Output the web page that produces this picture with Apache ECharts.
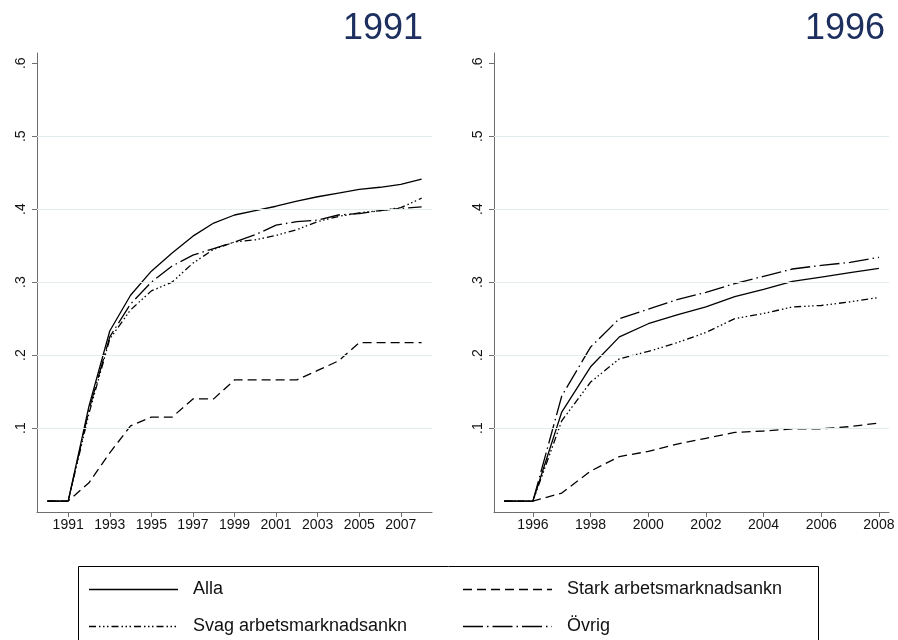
<!DOCTYPE html>
<html>
<head>
<meta charset="utf-8">
<script src="https://cdn.jsdelivr.net/npm/echarts@6/dist/echarts.min.js"></script>
<style>html,body{margin:0;padding:0;background:#fff;}#c{width:898px;height:640px;}</style>
</head>
<body>
<div id="c"></div>
<script>
// ---- data ----
const yearsL = [1990,1991,1992,1993,1994,1995,1996,1997,1998,1999,2000,2001,2002,2003,2004,2005,2006,2007,2008];
const allaL  = [0,0,0.13,0.233,0.282,0.315,0.34,0.363,0.381,0.392,0.398,0.404,0.411,0.417,0.422,0.427,0.430,0.434,0.441];
const starkL = [0,0,0.025,0.066,0.103,0.115,0.115,0.140,0.140,0.166,0.166,0.166,0.166,0.179,0.192,0.217,0.217,0.217,0.217];
const svagL  = [0,0,0.12,0.222,0.262,0.288,0.300,0.326,0.345,0.355,0.358,0.364,0.372,0.383,0.390,0.395,0.398,0.402,0.415];
const ovrigL = [0,0,0.125,0.225,0.270,0.300,0.322,0.337,0.346,0.355,0.365,0.378,0.383,0.385,0.392,0.394,0.398,0.401,0.403];

const yearsR = [1995,1996,1997,1998,1999,2000,2001,2002,2003,2004,2005,2006,2007,2008];
const allaR  = [0,0,0.122,0.184,0.225,0.243,0.255,0.266,0.280,0.290,0.301,0.307,0.313,0.319];
const starkR = [0,0,0.011,0.041,0.061,0.068,0.078,0.086,0.094,0.096,0.099,0.099,0.102,0.107];
const svagR  = [0,0,0.110,0.163,0.195,0.205,0.217,0.231,0.250,0.257,0.266,0.268,0.273,0.279];
const ovrigR = [0,0,0.144,0.211,0.250,0.263,0.276,0.286,0.298,0.308,0.318,0.323,0.327,0.334];

const yTicks = [0.1,0.2,0.3,0.4,0.5,0.6];
const gridVals = [0.1,0.2,0.3,0.4,0.5];
const xTicksL = [1991,1993,1995,1997,1999,2001,2003,2005,2007];
const xTicksR = [1996,1998,2000,2002,2004,2006,2008];
const names = ['Alla','Stark arbetsmarknadsankn','Svag arbetsmarknadsankn','Övrig'];
const panelTitles = ['1991','1996'];

// ---- styles ----
const FONT = 'Liberation Sans, Arial, Helvetica, sans-serif';
const dashes = [
  'solid',
  [9,5],
  [7,3,1.5,2.5,1.5,2.5,1.5,3],
  [20,4,1.5,4]
];
const axisColor = '#6e6e6e';

function pairs(xs, ys){ return xs.map((x,i)=>[x, ys[i]]); }

function xAxis(gi, min, max, ticks){
  return {
    type:'value', gridIndex:gi, min:min, max:max,
    axisLine:{show:true, onZero:false, lineStyle:{color:axisColor, width:1}},
    axisTick:{show:true, length:5, customValues:ticks, lineStyle:{color:axisColor}},
    axisLabel:{customValues:ticks, color:'#111', fontSize:14, fontFamily:FONT, margin:6, formatter:v=>String(Math.round(v))},
    splitLine:{show:false}
  };
}
function yAxis(gi){
  return {
    type:'value', gridIndex:gi, min:-0.015, max:0.614,
    axisLine:{show:true, onZero:false, lineStyle:{color:axisColor, width:1}},
    axisTick:{show:true, length:5, customValues:yTicks, lineStyle:{color:axisColor}},
    axisLabel:{customValues:yTicks, rotate:90, color:'#111', fontSize:14, fontFamily:FONT, margin:9,
      formatter:v=>'.'+Math.round(v*10)},
    splitLine:{show:false}
  };
}
function lineSeries(name, gi, xs, ys, k){
  return {
    name:name, type:'line', xAxisIndex:gi, yAxisIndex:gi,
    data:pairs(xs, ys), symbol:'none', showSymbol:false, z:3,
    lineStyle:{color:'#000', width:1.3, type:dashes[k]},
    itemStyle:{color:'#000'},
    emphasis:{disabled:true}, animation:false
  };
}
function gridSeries(gi){
  return {
    type:'line', xAxisIndex:gi, yAxisIndex:gi, data:[], z:1, silent:true, animation:false,
    markLine:{silent:true, symbol:['none','none'], label:{show:false},
      lineStyle:{color:'#e3ecef', type:'solid', width:1},
      data:gridVals.map(v=>({yAxis:v}))}
  };
}

const chart = echarts.init(document.getElementById('c'), null, {renderer:'canvas'});
const series = [
  gridSeries(0), gridSeries(1),
  lineSeries(names[0],0,yearsL,allaL,0),
  lineSeries(names[1],0,yearsL,starkL,1),
  lineSeries(names[2],0,yearsL,svagL,2),
  lineSeries(names[3],0,yearsL,ovrigL,3),
  lineSeries(names[0],1,yearsR,allaR,0),
  lineSeries(names[1],1,yearsR,starkR,1),
  lineSeries(names[2],1,yearsR,svagR,2),
  lineSeries(names[3],1,yearsR,ovrigR,3)
];

// legend drawn as graphic (2 columns x 2 rows)
const legendPos = [
  {k:0, x:89,  y:589},
  {k:1, x:463, y:589},
  {k:2, x:89,  y:626},
  {k:3, x:463, y:626}
];
const legendGraphics = [{
  type:'rect', shape:{x:78.5, y:566.5, width:740, height:90}, silent:true, z:0,
  style:{fill:'#fff', stroke:'#000', lineWidth:1}
}];
legendPos.forEach(p=>{
  const d = dashes[p.k];
  legendGraphics.push({
    type:'line', silent:true, z:1,
    shape:{x1:p.x, y1:p.y+0.5, x2:p.x+89, y2:p.y+0.5},
    style:{stroke:'#000', lineWidth:1.3, lineDash: d==='solid'? null : d}
  });
  legendGraphics.push({
    type:'text', silent:true, z:1, x:p.x+104, y:p.y,
    style:{text:names[p.k], fill:'#111', font:'18px '+FONT, textVerticalAlign:'middle', textAlign:'left'}
  });
});

chart.setOption({
  animation:false,
  backgroundColor:'#fff',
  title:[
    {text:panelTitles[0], right:475, top:11, padding:0, textStyle:{fontSize:36, fontWeight:'normal', color:'#1c2f5e', fontFamily:FONT}},
    {text:panelTitles[1], right:13, top:11, padding:0, textStyle:{fontSize:36, fontWeight:'normal', color:'#1c2f5e', fontFamily:FONT}}
  ],
  grid:[
    {left:37, top:53, width:395, bottom:128, containLabel:false},
    {left:494, top:53, width:395, bottom:128, containLabel:false}
  ],
  xAxis:[xAxis(0,1989.5,2008.5,xTicksL), xAxis(1,1994.65,2008.35,xTicksR)],
  yAxis:[yAxis(0), yAxis(1)],
  graphic:legendGraphics,
  series:series
});
</script>
</body>
</html>
